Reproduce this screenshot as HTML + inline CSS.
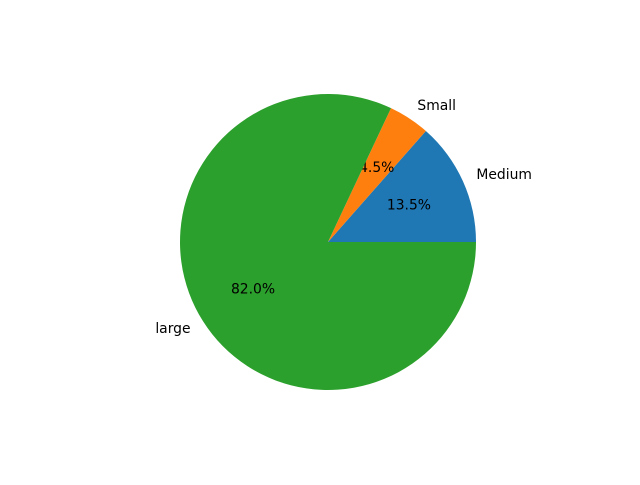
<!DOCTYPE html>
<html><head><meta charset="utf-8"><style>
body{margin:0;background:#fff;}
svg text{font-family:"DejaVu Sans","Liberation Sans",sans-serif;font-size:13.9px;fill:#000;}
</style></head><body>
<svg id="chart" width="640" height="480" xmlns="http://www.w3.org/2000/svg">
<rect width="640" height="480" fill="#fff"/>
</svg>
<script>
const categories = ["Medium", "Small", "large"];
const values = [13.5, 4.5, 82.0];
const colors = ["#1f77b4", "#ff7f0e", "#2ca02c"];
const svg = document.getElementById('chart');
const NS = 'http://www.w3.org/2000/svg';
const cx = 328, cy = 242, R = 148;
const total = values.reduce((a,b)=>a+b,0);
let start = 0;
function pt(a, r){ return [cx + r*Math.cos(a), cy - r*Math.sin(a)]; }
values.forEach((v,i)=>{
  const sweep = v/total*2*Math.PI;
  const end = start + sweep;
  const [x1,y1] = pt(start,R), [x2,y2] = pt(end,R);
  const large = sweep > Math.PI ? 1 : 0;
  const p = document.createElementNS(NS,'path');
  p.setAttribute('d', `M${cx},${cy} L${x1},${y1} A${R},${R} 0 ${large} 0 ${x2},${y2} Z`);
  p.setAttribute('fill', colors[i]);
  
  
  svg.appendChild(p);
  const mid = start + sweep/2;
  const [lx,ly] = pt(mid, R*1.1);
  const t = document.createElementNS(NS,'text');
  t.setAttribute('x', lx); t.setAttribute('y', ly);
  t.setAttribute('dominant-baseline','central');
  t.setAttribute('text-anchor', Math.cos(mid) >= 0 ? 'start' : 'end');
  t.textContent = categories[i];
  
  
  svg.appendChild(t);
  const [px,py] = pt(mid, R*0.6);
  const pc = document.createElementNS(NS,'text');
  pc.setAttribute('x', px); pc.setAttribute('y', py);
  pc.setAttribute('dominant-baseline','central');
  pc.setAttribute('text-anchor','middle');
  pc.textContent = (v/total*100).toFixed(1) + '%';
  
  
  svg.appendChild(pc);
  start = end;
});
</script>
</body></html>
